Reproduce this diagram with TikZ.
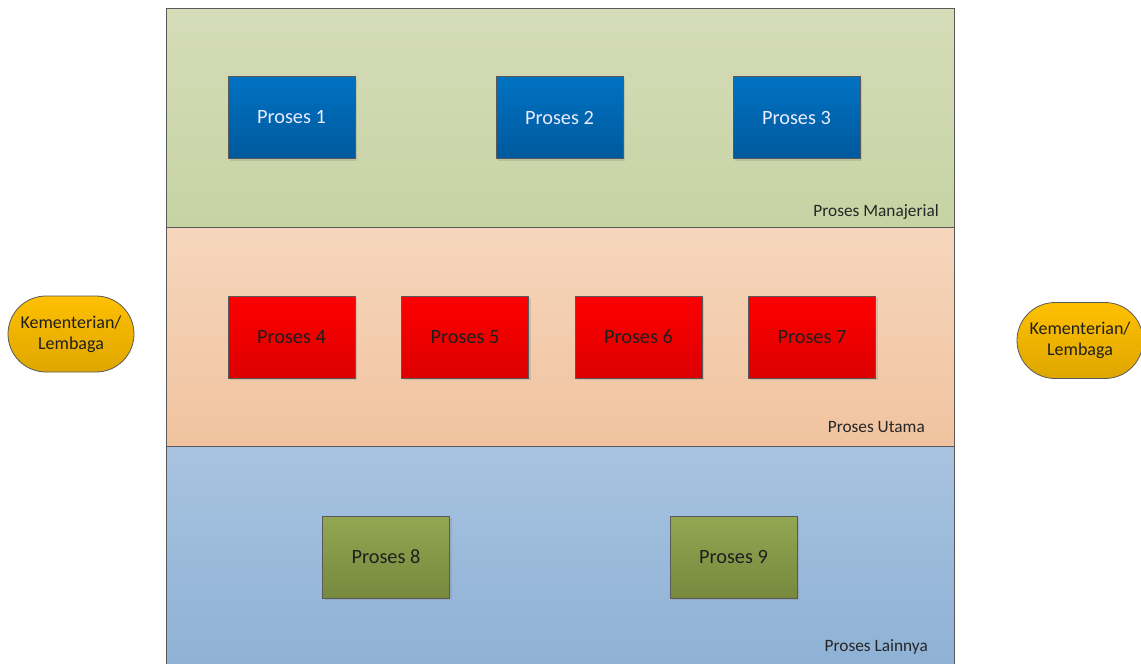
\documentclass[tikz,border=0pt]{standalone}
\usepackage{fontspec}
\setmainfont{Carlito}
\usetikzlibrary{shadows,shapes.misc}
\definecolor{bandAtop}{HTML}{D5DCB8}
\definecolor{bandAbot}{HTML}{C7D3A3}
\definecolor{bandBtop}{HTML}{F5D6BC}
\definecolor{bandBbot}{HTML}{F1C39F}
\definecolor{bandCtop}{HTML}{A8C3E0}
\definecolor{bandCbot}{HTML}{8EB1D5}
\definecolor{blueTop}{HTML}{0072C2}
\definecolor{blueBot}{HTML}{00599D}
\definecolor{redTop}{HTML}{FF0000}
\definecolor{redBot}{HTML}{DC0000}
\definecolor{grnTop}{HTML}{93A652}
\definecolor{grnBot}{HTML}{76893E}
\definecolor{ovTop}{HTML}{FFC000}
\definecolor{ovBot}{HTML}{DEA600}
\definecolor{edge}{HTML}{595959}
\tikzset{
  band/.style={draw=edge, line width=0.8pt},
  procbox/.style={draw=edge, line width=0.8pt, minimum width=127pt, minimum height=82pt, inner sep=0pt,
    font=\fontsize{20.3}{22}\selectfont, drop shadow={opacity=0.25, shadow xshift=2pt, shadow yshift=-2pt}},
  bluebox/.style={procbox, top color=blueTop, bottom color=blueBot, text=white!92!blue},
  redbox/.style={procbox, top color=redTop, bottom color=redBot, text=black!88},
  grnbox/.style={procbox, top color=grnTop, bottom color=grnBot, text=black!88},
  kl/.style={draw=edge, line width=0.8pt, rounded rectangle, minimum width=126pt, minimum height=76pt,
    top color=ovTop, bottom color=ovBot, align=center, font=\fontsize{18}{21}\selectfont, text=black!88, inner sep=0pt},
  bandlabel/.style={font=\fontsize{17.3}{19}\selectfont, text=black!85, anchor=east, inner sep=0pt}
}
\begin{document}
\begin{tikzpicture}[x=1pt,y=-1pt]
\useasboundingbox (0,0) rectangle (1141,664);
\clip (0,0) rectangle (1141,664);
% bands
\path[band, top color=bandAtop, bottom color=bandAbot] (166,8) rectangle (954,227);
\path[band, top color=bandBtop, bottom color=bandBbot] (166,227) rectangle (954,446);
\path[band, top color=bandCtop, bottom color=bandCbot] (166,446) rectangle (954,670);
\node[bandlabel] (lblA) at (939,212) {Proses Manajerial};
\node[bandlabel] (lblB) at (925,427) {Proses Utama};
\node[bandlabel] (lblC) at (928,647) {Proses Lainnya};
% row 1
\node[bluebox] (p1) at (291.5,117.5) {Proses 1};
\node[bluebox] (p2) at (559.5,117.5) {Proses 2};
\node[bluebox] (p3) at (796.5,117.5) {Proses 3};
% row 2
\node[redbox] (p4) at (291.5,337) {Proses 4};
\node[redbox] (p5) at (465,337) {Proses 5};
\node[redbox] (p6) at (638.5,337) {Proses 6};
\node[redbox] (p7) at (812,337) {Proses 7};
% row 3
\node[grnbox] (p8) at (386,557) {Proses 8};
\node[grnbox] (p9) at (733.5,557) {Proses 9};
% ovals
\node[kl] (k1) at (71,334) {Kementerian/\\Lembaga};
\node[kl] (k2) at (1080,340.5) {Kementerian/\\Lembaga};
\end{tikzpicture}
\end{document}
